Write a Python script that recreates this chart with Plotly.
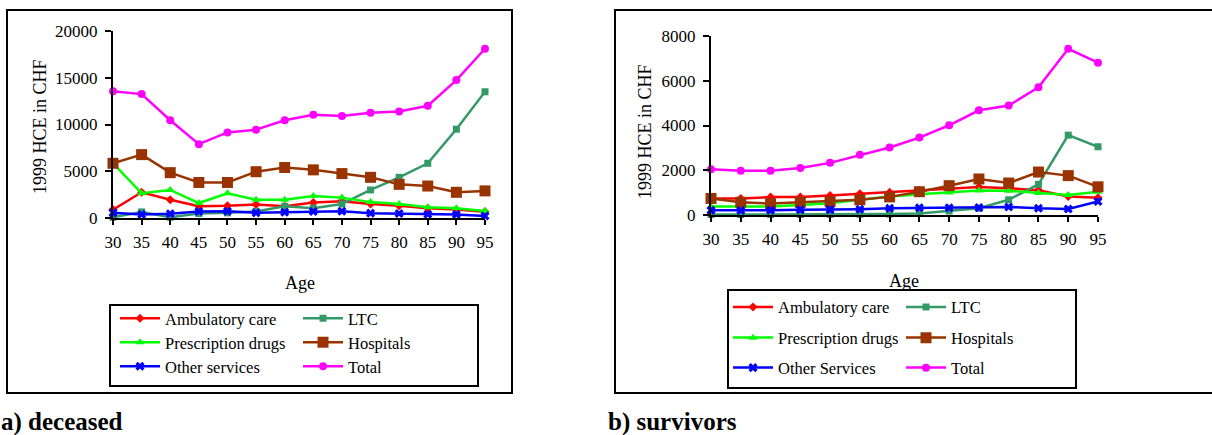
import plotly.graph_objects as go

W, H = 1212, 435

ages = [30, 35, 40, 45, 50, 55, 60, 65, 70, 75, 80, 85, 90, 95]
series_names_d = ["Ambulatory care", "LTC", "Prescription drugs", "Hospitals", "Other services", "Total"]
series_names_s = ["Ambulatory care", "LTC", "Prescription drugs", "Hospitals", "Other Services", "Total"]

# a) deceased
amb_d = [900, 2750, 1950, 1250, 1300, 1450, 1250, 1650, 1780, 1500, 1320, 1040, 900, 680]
ltc_d = [80, 650, 80, 480, 550, 700, 1250, 1050, 1500, 3000, 4350, 5850, 9500, 13500]
presc_d = [5850, 2650, 3000, 1600, 2650, 1950, 1950, 2350, 2180, 1700, 1500, 1150, 1050, 750]
hosp_d = [5850, 6780, 4850, 3800, 3800, 4950, 5400, 5150, 4750, 4350, 3600, 3420, 2750, 2900]
other_d = [550, 380, 450, 700, 720, 550, 620, 700, 720, 520, 480, 400, 380, 220]
total_d = [13550, 13250, 10450, 7900, 9150, 9450, 10450, 11050, 10900, 11250, 11400, 12000, 14750, 18100]

# b) survivors
amb_s = [740, 740, 800, 800, 870, 950, 1010, 1100, 1170, 1250, 1200, 1110, 830, 770]
ltc_s = [20, 20, 25, 25, 30, 35, 40, 70, 180, 300, 680, 1370, 3570, 3050]
presc_s = [380, 380, 380, 450, 530, 680, 830, 930, 1010, 1100, 1080, 980, 890, 1040]
hosp_s = [740, 570, 510, 570, 600, 680, 810, 1040, 1310, 1610, 1430, 1920, 1760, 1260]
other_s = [210, 200, 210, 230, 240, 260, 300, 320, 320, 330, 360, 300, 270, 600]
total_s = [2050, 1980, 1980, 2100, 2330, 2690, 3020, 3460, 4010, 4680, 4890, 5710, 7430, 6810]

y_title = "1999 HCE in CHF"
x_title = "Age"
label_a = "a) deceased"
label_b = "b) survivors"

colors = ["#FF0000", "#339966", "#00FF00", "#993300", "#0000FF", "#FF00FF"]
symbols = ["diamond", "square", "triangle-up", "square", "x", "circle"]
sizes = [7, 7, 8, 11, 8, 8]

FONT = "Liberation Serif"


def px(x):
    return x / W


def py(y):
    return 1 - y / H


fig = go.Figure()

left_legends = ["legend", "legend", "legend2", "legend2", "legend3", "legend3"]
right_legends = ["legend4", "legend4", "legend5", "legend5", "legend6", "legend6"]

data_d = [amb_d, ltc_d, presc_d, hosp_d, other_d, total_d]
data_s = [amb_s, ltc_s, presc_s, hosp_s, other_s, total_s]

for i in range(6):
    fig.add_trace(go.Scatter(
        x=ages, y=data_d[i], name=series_names_d[i], mode="lines+markers",
        line=dict(color=colors[i], width=2.5),
        marker=dict(symbol=symbols[i], size=sizes[i], color=colors[i]),
        xaxis="x", yaxis="y", legend=left_legends[i], cliponaxis=False,
    ))
for i in range(6):
    fig.add_trace(go.Scatter(
        x=ages, y=data_s[i], name=series_names_s[i], mode="lines+markers",
        line=dict(color=colors[i], width=2.5),
        marker=dict(symbol=symbols[i], size=sizes[i], color=colors[i]),
        xaxis="x2", yaxis="y2", legend=right_legends[i], cliponaxis=False,
    ))

axis_common = dict(
    showline=True, linecolor="black", linewidth=2, showgrid=False, zeroline=False,
    ticks="outside", tickcolor="black", tickwidth=1.5, tickformat="d", automargin=False,
    tickfont=dict(family=FONT, size=17, color="black"),
)

fig.update_layout(
    width=W, height=H,
    margin=dict(l=0, r=0, t=0, b=0, pad=0, autoexpand=False),
    paper_bgcolor="white", plot_bgcolor="white",
    font=dict(family=FONT, color="black"),
    xaxis=dict(domain=[px(113), px(485)], range=[30, 95], tickvals=ages, anchor="y",
               ticklen=5, ticklabelstandoff=3, **axis_common),
    yaxis=dict(domain=[py(218), py(31)], range=[0, 20000], dtick=5000, anchor="x",
               ticklen=6, ticklabelstandoff=4, **axis_common),
    xaxis2=dict(domain=[px(711), px(1098)], range=[30, 95], tickvals=ages, anchor="y2",
                ticklen=5, ticklabelstandoff=3, **axis_common),
    yaxis2=dict(domain=[py(215), py(36)], range=[0, 8000], dtick=2000, anchor="x2",
                ticklen=6, ticklabelstandoff=4, **axis_common),
)

leg_common = dict(orientation="h", xanchor="left", yanchor="top", bgcolor="rgba(0,0,0,0)",
                  borderwidth=0, itemwidth=40, entrywidthmode="pixels",
                  font=dict(family=FONT, size=16.5, color="black"), traceorder="normal")
fig.update_layout(
    legend=dict(x=px(115), y=py(301), entrywidth=128, **leg_common),
    legend2=dict(x=px(115), y=py(325), entrywidth=128, **leg_common),
    legend3=dict(x=px(115), y=py(349), entrywidth=128, **leg_common),
    legend4=dict(x=px(728), y=py(289.8), entrywidth=118, **leg_common),
    legend5=dict(x=px(728), y=py(320.4), entrywidth=118, **leg_common),
    legend6=dict(x=px(728), y=py(350.4), entrywidth=118, **leg_common),
)

shapes = [
    # outer frames
    dict(type="rect", xref="paper", yref="paper", x0=px(7), x1=px(512), y0=py(393), y1=py(10),
         line=dict(color="black", width=2)),
    dict(type="rect", xref="paper", yref="paper", x0=px(615), x1=px(1220), y0=py(393), y1=py(10),
         line=dict(color="black", width=2)),
    # legend boxes
    dict(type="rect", xref="paper", yref="paper", x0=px(110), x1=px(478), y0=py(386), y1=py(305),
         line=dict(color="black", width=2)),
    dict(type="rect", xref="paper", yref="paper", x0=px(728), x1=px(1076), y0=py(388), y1=py(290),
         line=dict(color="black", width=2)),
]
fig.update_layout(shapes=shapes)

ann_font = dict(family=FONT, size=18, color="black")
annotations = [
    dict(text=y_title, x=px(40), y=py(126), xref="paper", yref="paper", textangle=-90,
         showarrow=False, font=ann_font, xanchor="center", yanchor="middle"),
    dict(text=y_title, x=px(645), y=py(132), xref="paper", yref="paper", textangle=-90,
         showarrow=False, font=ann_font, xanchor="center", yanchor="middle"),
    dict(text=x_title, x=px(300), y=py(283), xref="paper", yref="paper",
         showarrow=False, font=ann_font, xanchor="center", yanchor="middle"),
    dict(text=x_title, x=px(904), y=py(281), xref="paper", yref="paper",
         showarrow=False, font=ann_font, xanchor="center", yanchor="middle"),
    dict(text="<b>" + label_a + "</b>", x=px(-1), y=py(422), xref="paper", yref="paper",
         showarrow=False, font=dict(family=FONT, size=25, color="black"),
         xanchor="left", yanchor="middle"),
    dict(text="<b>" + label_b + "</b>", x=px(606), y=py(422), xref="paper", yref="paper",
         showarrow=False, font=dict(family=FONT, size=25, color="black"),
         xanchor="left", yanchor="middle"),
]
fig.update_layout(annotations=annotations)

fig.write_html(
    "out.html",
    config={"displayModeBar": False},
    post_script="document.body.style.margin='0px';document.body.style.overflow='hidden';",
)
